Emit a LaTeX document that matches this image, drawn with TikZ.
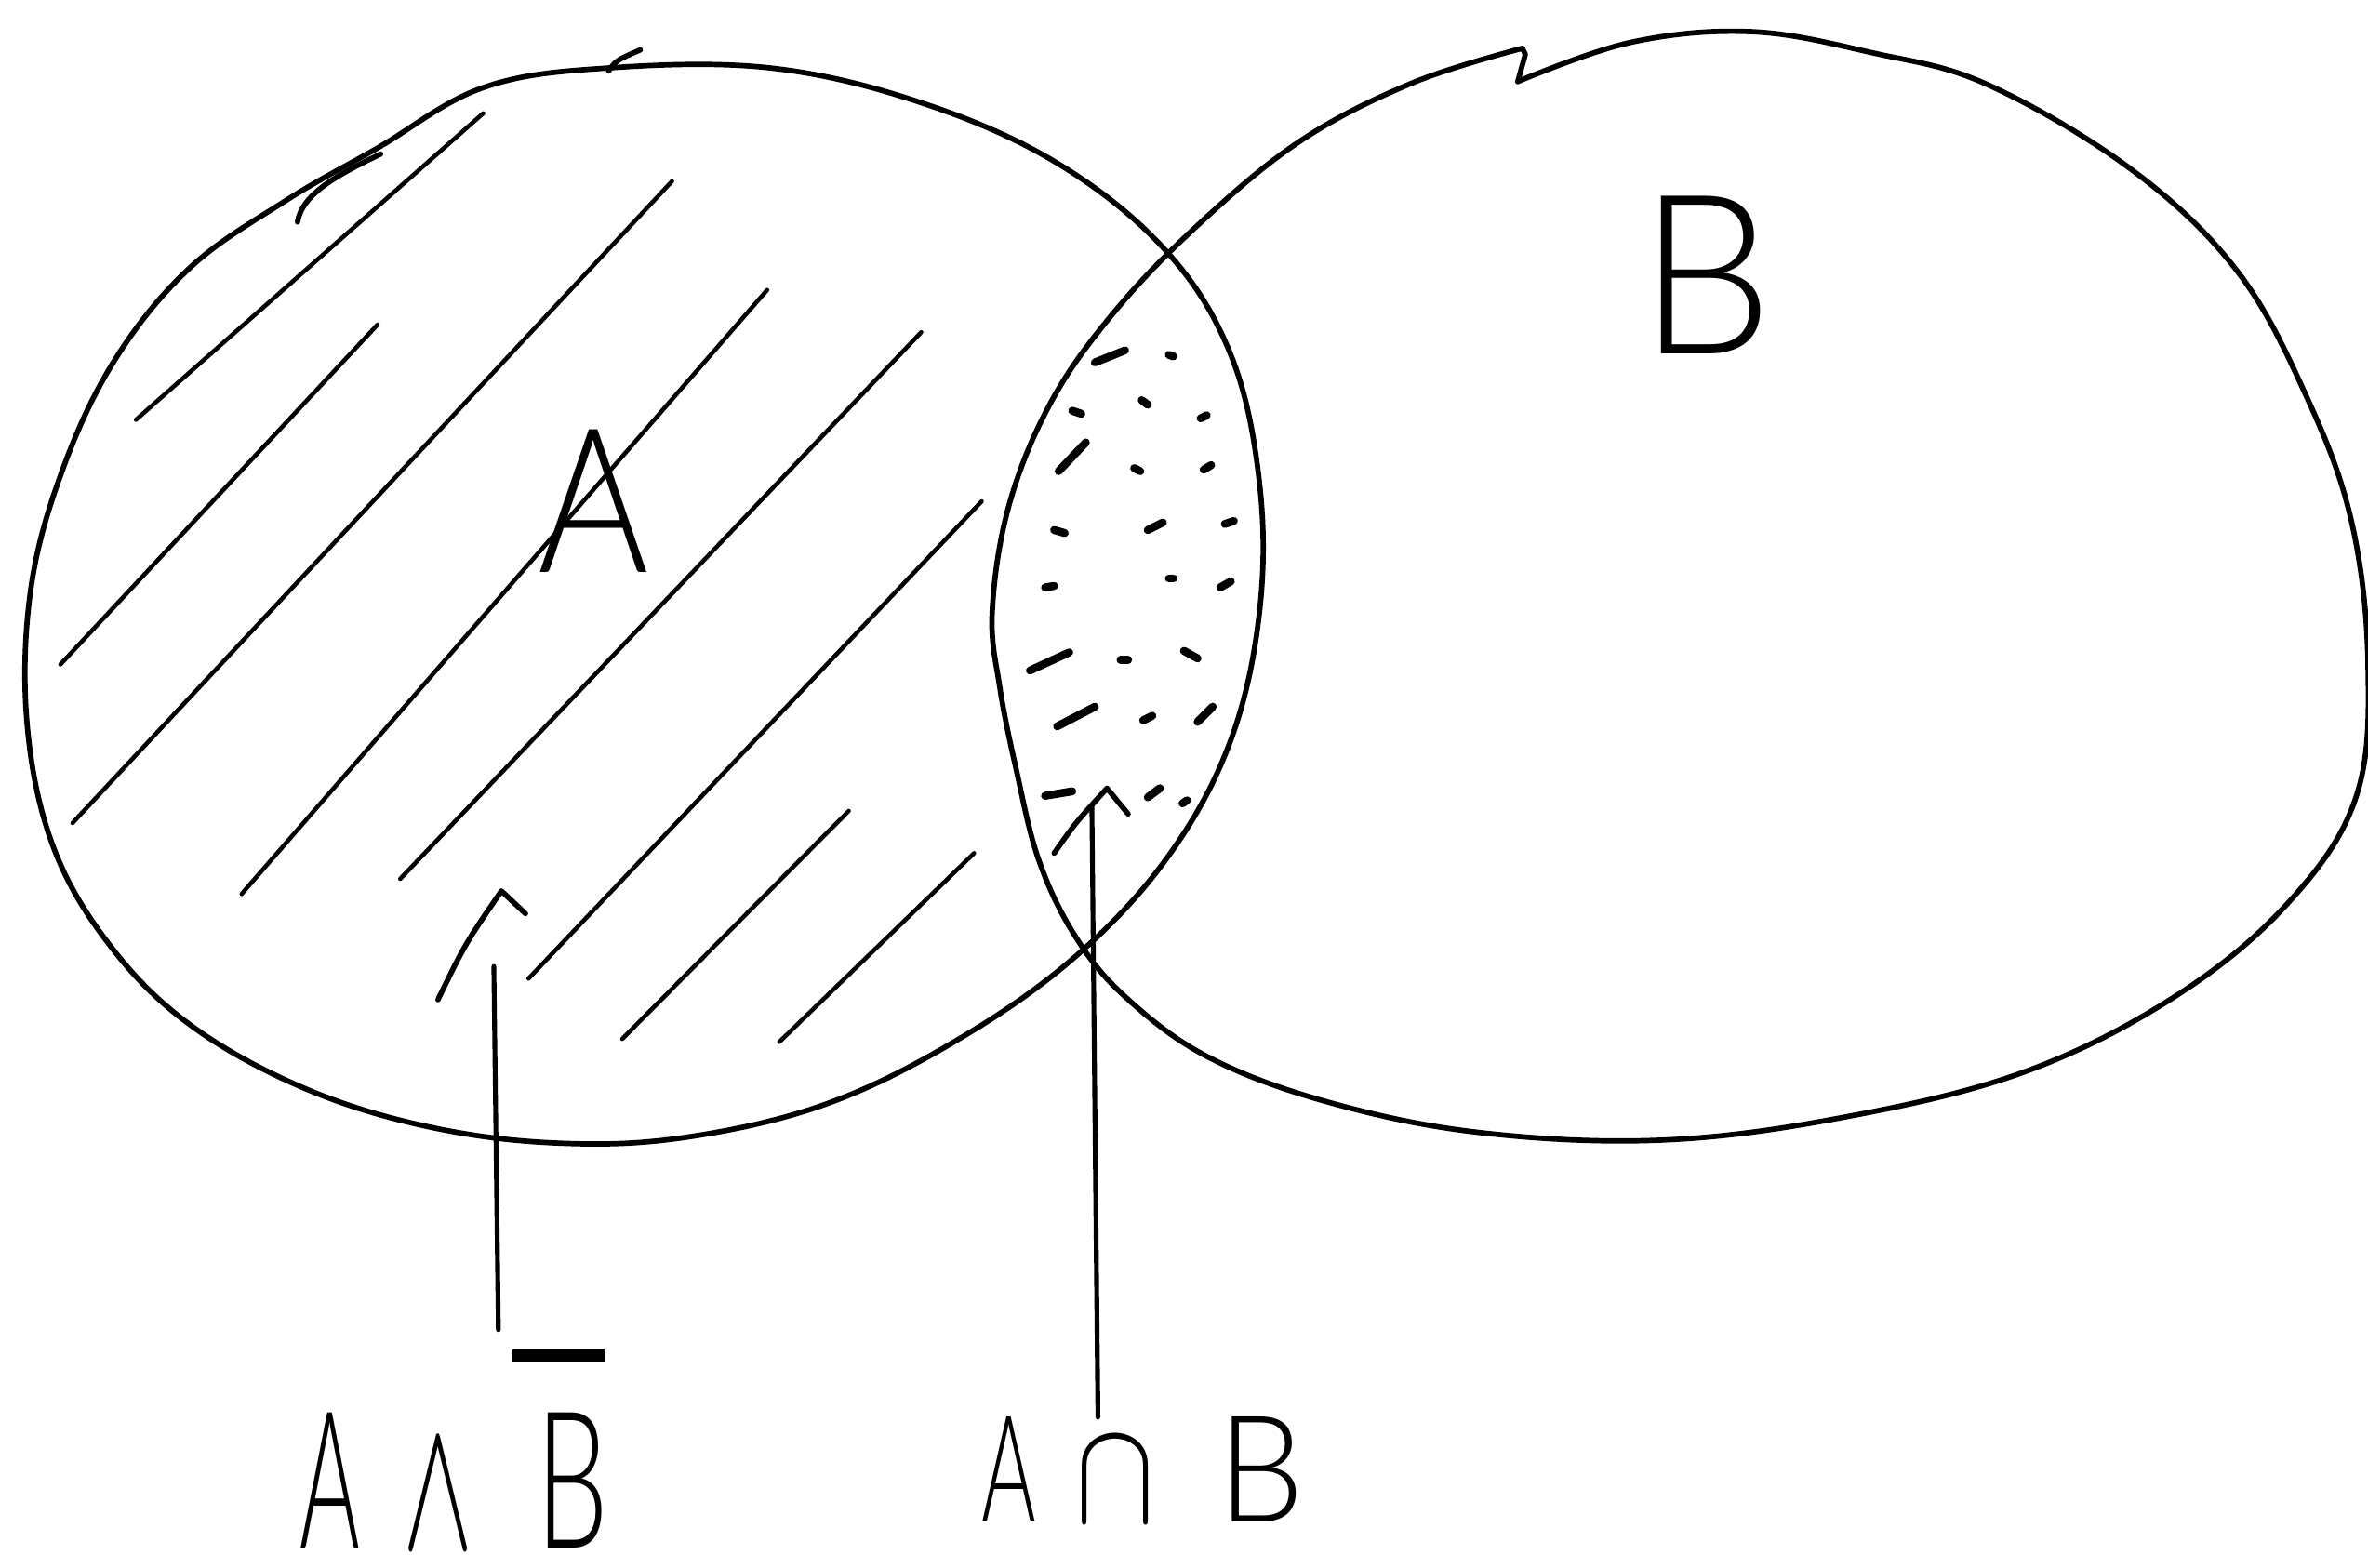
\RequirePackage{fix-cm}
\documentclass[tikz,border=0pt]{standalone}
\usepackage{fontspec}
\newfontfamily\hand{Lato Light}
\usetikzlibrary{calc}
\begin{document}
\begin{tikzpicture}[x=0.1mm,y=-0.1mm,
  outline/.style={line width=1pt,line join=round,line cap=round},
  hatch/.style={line width=0.8pt,line cap=round},
  speck/.style={line width=1.5pt,line cap=round},
  conn/.style={line width=0.9pt,line cap=round},
  tipmark/.style={line width=1pt,line cap=round,line join=round},
  lbl/.style={inner sep=0pt,outer sep=0pt}]
\useasboundingbox (0,0) rectangle (1568,1038);
\fill[white] (0,0) rectangle (1568,1038);

% circle A
\draw[outline] plot[smooth cycle,tension=0.62] coordinates {
 (403,45) (510,45) (610,68) (700,108) (772,166) (815,235) (834,320) (834,405)
 (815,490) (775,565) (716,630) (640,685) (550,730) (455,753) (370,757)
 (283,746) (200,720) (125,678) (72,625) (35,560) (18,480) (20,393) (40,315)
 (75,240) (125,178) (189,133) (250,98) (320,58)};
\draw[outline] (403,47) .. controls (408,40) .. (424,33);
\draw[outline] (197,147) .. controls (200,128) and (225,115) .. (252,102);

% circle B
\draw[outline] plot[smooth,tension=0.62] coordinates {
 (1005,54) (1080,28) (1160,21) (1240,35) (1316,56) (1411,112) (1481,179)
 (1527,262) (1557,345) (1568,440) (1560,528) (1515,598) (1440,660) (1340,710)
 (1220,740) (1100,755) (980,750) (880,730) (800,700) (745,660) (712,620)
 (688,570) (673,510) (662,455) (657,405) (668,335) (695,268) (735,210)
 (790,152) (860,94) (935,55) (1008,32)};
\draw[outline] (1008,32) -- (1010,36) -- (1005,54);

% hatching of A without B
\foreach \xa/\ya/\xb/\yb in {90/278/320/75, 40/440/250/215, 48/545/445/120,
  160/592/508/192, 265/582/610/220, 350/648/650/332,
  412/688/562/537, 516/690/645/565}
  \draw[hatch] (\xa,\ya) -- (\xb,\yb);

% specks in A and B
\foreach \xa/\ya/\xb/\yb in {725/240/745/232, 774/235/777/236, 710/272/716/274,
  756/265/760/268, 795/277/799/275, 701/312/719/293,
  751/310/755/312, 797/311/802/308, 698/351/705/353,
  760/351/770/346, 811/347/817/345, 692/389/698/388,
  774/383/777/383, 808/389/815/385, 682/444/708/432,
  742/437/747/437, 784/431/793/436, 700/481/725/468,
  757/477/763/474, 793/478/803/468, 692/527/710/524,
  760/528/768/522, 783/532/786/530}
  \draw[speck] (\xa,\ya) -- (\xb,\yb);

% set letters
\node[lbl] (la) at (393,332) {\fontsize{38}{38}\selectfont\scalebox{0.84}[1]{\hand A}};
\node[lbl] (lb) at (1130,182) {\fontsize{42}{42}\selectfont\scalebox{0.95}[1]{\hand B}};

% labels below
\node[lbl,anchor=base] (lab1) at (301,1025) {\fontsize{36}{36}\selectfont
  \scalebox{0.48}[1]{\hand A}\hspace{2.8mm}\scalebox{0.55}[1]{$\wedge$}\hspace{4.2mm}%
  \vbox{\offinterlineskip\hbox to 0pt{\kern-1.6mm\rule{6.1mm}{0.8mm}\hss}\kern3.4mm
  \hbox{\scalebox{0.6}[1]{\hand B}}}};
\node[lbl,anchor=base] (lab2) at (757,1008) {\fontsize{28}{28}\selectfont
  \scalebox{0.56}[1]{\hand A}\hspace{2.6mm}\scalebox{0.8}[1]{$\cap$}\hspace{4.2mm}%
  \scalebox{0.92}[1]{\hand B}};

% arrows
\coordinate (t1) at (327,640);
\coordinate (t2) at (723,534);
\draw[conn] ($(lab1.north -| t1)+(3,-13)$) -- (t1);
\draw[tipmark] (290,662) .. controls (308,625) .. (332,590) -- (348,605);
\draw[conn] ($(lab2.north -| t2)+(4,0)$) -- (t2);
\draw[tipmark] (698,565) .. controls (712,545) .. (733,522) -- (747,539);
\end{tikzpicture}
\end{document}
